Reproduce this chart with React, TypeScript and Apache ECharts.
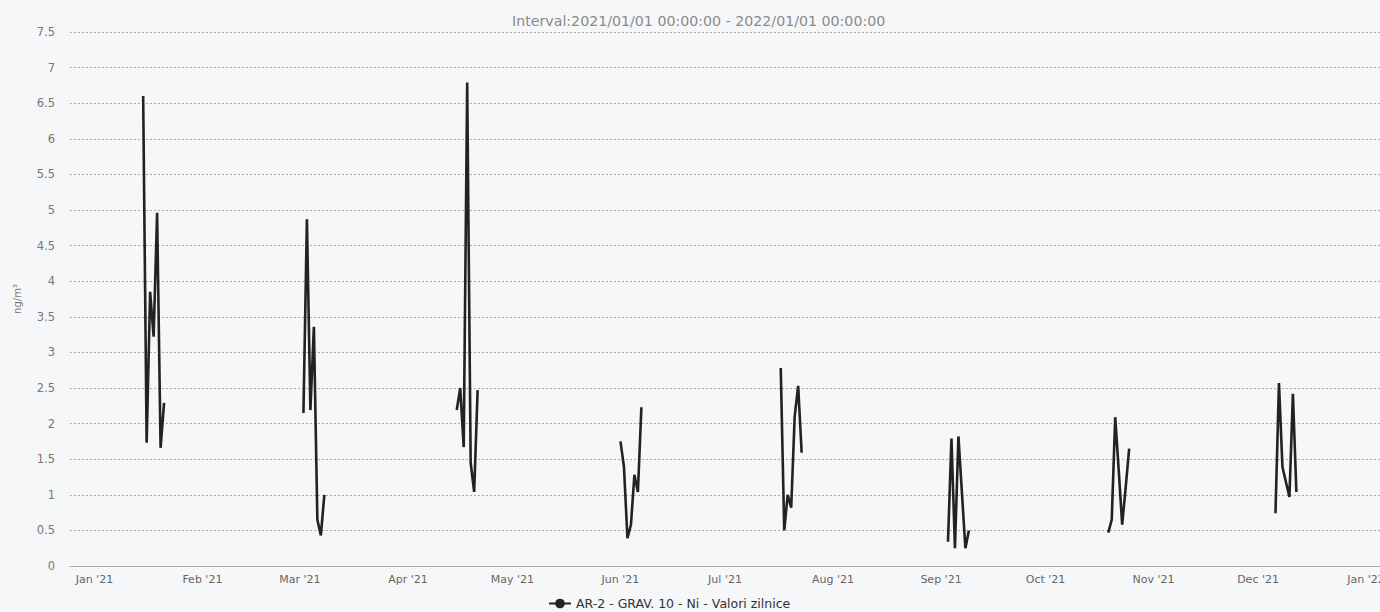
import React, { useEffect, useRef } from "react";
import * as echarts from "echarts";

const titleText = "Interval:2021/01/01 00:00:00 - 2022/01/01 00:00:00";
const seriesName = "AR-2 - GRAV. 10 - Ni - Valori zilnice";
const yAxisName = "ng/m³";
const monthLabels = ["Jan", "Feb", "Mar", "Apr", "May", "Jun", "Jul", "Aug", "Sep", "Oct", "Nov", "Dec"];
const monthTicks = [
  "2021-01-01", "2021-02-01", "2021-03-01", "2021-04-01", "2021-05-01", "2021-06-01", "2021-07-01",
  "2021-08-01", "2021-09-01", "2021-10-01", "2021-11-01", "2021-12-01", "2022-01-01",
];

const dates = [
  "2021-01-15", "2021-01-16", "2021-01-17", "2021-01-18", "2021-01-19", "2021-01-20", "2021-01-21",
  "2021-03-02", "2021-03-03", "2021-03-04", "2021-03-05", "2021-03-06", "2021-03-07", "2021-03-08",
  "2021-04-15", "2021-04-16", "2021-04-17", "2021-04-18", "2021-04-19", "2021-04-20", "2021-04-21",
  "2021-06-01", "2021-06-02", "2021-06-03", "2021-06-04", "2021-06-05", "2021-06-06", "2021-06-07",
  "2021-07-17", "2021-07-18", "2021-07-19", "2021-07-20", "2021-07-21", "2021-07-22", "2021-07-23",
  "2021-09-03", "2021-09-04", "2021-09-05", "2021-09-06", "2021-09-07", "2021-09-08", "2021-09-09",
  "2021-10-19", "2021-10-20", "2021-10-21", "2021-10-22", "2021-10-23", "2021-10-24", "2021-10-25",
  "2021-12-06", "2021-12-07", "2021-12-08", "2021-12-09", "2021-12-10", "2021-12-11", "2021-12-12",
];

const values = [
  6.6, 1.73, 3.85, 3.22, 4.96, 1.66, 2.29,
  2.15, 4.87, 2.19, 3.36, 0.65, 0.43, 1.0,
  2.19, 2.5, 1.67, 6.79, 1.45, 1.04, 2.47,
  1.75, 1.39, 0.39, 0.58, 1.28, 1.04, 2.23,
  2.78, 0.5, 1.0, 0.82, 2.1, 2.53, 1.59,
  0.34, 1.79, 0.25, 1.82, 1.03, 0.25, 0.5,
  0.47, 0.65, 2.09, 1.35, 0.58, 1.1, 1.65,
  0.74, 2.57, 1.39, 1.18, 0.97, 2.42, 1.04,
];

const axisMin = "2020-12-25";
const axisMax = "2022-01-05";

const DAY = 86400000;
const ts = (s: string) => new Date(s + "T00:00:00Z").getTime();

function buildData() {
  const out: any[] = [];
  for (let i = 0; i < dates.length; i++) {
    if (i > 0) {
      const gap = ts(dates[i]) - ts(dates[i - 1]);
      if (gap > DAY * 1.5) out.push([ts(dates[i - 1]) + DAY, null]);
    }
    out.push([ts(dates[i]), values[i]]);
  }
  return out;
}

export default function App() {
  const ref = useRef<HTMLDivElement>(null);
  useEffect(() => {
    if (!ref.current) return;
    const chart = echarts.init(ref.current, null, { renderer: "svg" });
    const font = "DejaVu Sans, Verdana, sans-serif";
    const tickValues = monthTicks.map(ts);
    chart.setOption({
      animation: false,
      backgroundColor: "#f6f7f9",
      title: {
        text: titleText,
        left: 507,
        top: 9,
        textStyle: { fontFamily: font, fontSize: 14.2, fontWeight: "normal", color: "#8a8a8a" },
      },
      legend: {
        bottom: -3,
        left: 543,
        itemWidth: 22,
        itemHeight: 12,
        itemGap: 4,
        textStyle: { fontFamily: font, fontSize: 12.5, color: "#333" },
        data: [seriesName],
      },
      grid: { left: 70, right: 0, top: 32, bottom: 46, containLabel: false, outerBoundsMode: "none" },
      xAxis: {
        type: "value",
        min: ts(axisMin),
        max: ts(axisMax),
        axisLine: { show: true, lineStyle: { color: "#aaa", width: 1 } },
        axisTick: { show: false, customValues: tickValues },
        splitLine: { show: false },
        axisLabel: {
          customValues: tickValues,
          fontFamily: font,
          fontSize: 11,
          color: "#666",
          margin: 8,
          showMinLabel: true,
          showMaxLabel: true,
          hideOverlap: false,
          formatter: (val: number) => {
            const d = new Date(val);
            return monthLabels[d.getUTCMonth()] + " '" + String(d.getUTCFullYear()).slice(2);
          },
        },
      },
      yAxis: {
        type: "value",
        min: 0,
        max: 7.5,
        interval: 0.5,
        name: yAxisName,
        nameLocation: "middle",
        nameRotate: 90,
        nameGap: 48,
        nameTextStyle: { fontFamily: font, fontSize: 10, color: "#777" },
        axisLine: { show: false },
        axisTick: { show: false },
        axisLabel: { fontFamily: font, fontSize: 11.5, color: "#777", margin: 15 },
        splitLine: { show: true, lineStyle: { color: "#aaa", type: [2, 2], width: 1 } },
      },
      series: [
        {
          name: seriesName,
          type: "line",
          data: buildData(),
          connectNulls: false,
          showSymbol: false,
          symbol: "circle",
          symbolSize: 7,
          lineStyle: { color: "#222", width: 2.6 },
          itemStyle: { color: "#222" },
        },
      ],
    });
    return () => chart.dispose();
  }, []);
  return (
    <div style={{ position: "fixed", left: 0, top: 0, width: 1380, height: 612 }}>
      <div ref={ref} style={{ width: 1380, height: 612 }} />
    </div>
  );
}
